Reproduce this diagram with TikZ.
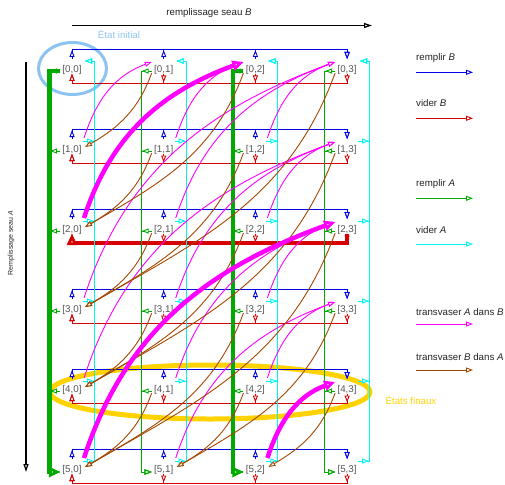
\documentclass[tikz,border=0pt]{standalone}
\usepackage{fontspec}
\setmainfont{Liberation Sans}
\usetikzlibrary{arrows.meta,decorations.markings}

\definecolor{fillBcol}{RGB}{0,0,235}
\definecolor{emptyBcol}{RGB}{215,0,0}
\definecolor{fillAcol}{RGB}{0,170,0}
\definecolor{emptyAcol}{RGB}{0,245,245}
\definecolor{pourABcol}{RGB}{255,0,255}
\definecolor{pourBAcol}{RGB}{165,70,0}
\definecolor{initcol}{RGB}{140,195,240}
\definecolor{finalcol}{RGB}{255,210,0}
\definecolor{statecol}{RGB}{85,85,85}
\definecolor{textcol}{RGB}{35,35,35}

\tikzset{
  Otip/.tip={Triangle[length=7pt,width=5pt,fill=white]},
  OtipBig/.tip={Triangle[length=11pt,width=10pt,fill=white]},
  state/.style={font=\fontsize{9.8}{11}\selectfont, text=statecol, inner sep=0pt},
  legend/.style={font=\fontsize{9.7}{11}\selectfont, text=textcol, inner sep=0pt, anchor=base west},
  edge/.style={line width=0.9pt, -Otip},
  hot/.style={line width=4.5pt, -OtipBig},
  srcmark/.style={postaction={decorate},
    decoration={markings, mark=at position #1 with {\arrow{Otip}}}},
  axis/.style={line width=1.2pt, black, -{Triangle[length=8pt,width=5pt,fill=white]}},
}

\begin{document}
\begin{tikzpicture}[x=1pt,y=1pt]
\useasboundingbox (0,0) rectangle (505,-484);

% highlighted sets of states
\draw[finalcol, line width=5pt] (210,-392) ellipse [x radius=160, y radius=27];
\draw[initcol, line width=3pt] (72.5,-68.5) ellipse [x radius=34, y radius=26];

% states [a,b]: a litres in A (rows), b litres in B (columns)
\foreach \a in {0,...,5}{
  \foreach \b in {0,...,3}{
    \node[state] (s\a\b) at ({72+91.7*\b},{-70-80*\a}) {[\a,\b]};
  }
}

% remplir B : [a,b] -> [a,3]
\foreach \a in {0,...,5}{
  \foreach \b in {0,1,2}{
    \draw[fillBcol, edge, srcmark=9pt] ([yshift=11pt]s\a\b.center) -- ([yshift=20.5pt]s\a\b.center) -| ([yshift=11pt]s\a3.center);
  }
}

% vider B : [a,b] -> [a,0]
\foreach \a in {0,...,5}{
  \foreach \b in {1,2,3}{
    \draw[emptyBcol, edge, srcmark=8.5pt] ([yshift=-4pt]s\a\b.center) -- ([yshift=-13pt]s\a\b.center) -| ([yshift=-4pt]s\a0.center);
  }
}
\draw[emptyBcol, hot] ([yshift=-4pt]s23.center) -- ([yshift=-13pt]s23.center) -| ([yshift=-4pt]s20.center);

% remplir A : [a,b] -> [5,b]
\foreach \b in {0,...,3}{
  \foreach \a in {0,...,4}{
    \draw[fillAcol, edge, srcmark=10pt] ([xshift=-12pt,yshift=-1pt]s\a\b.center) -- ([xshift=-22.5pt,yshift=-1pt]s\a\b.center) |- ([xshift=-12pt,yshift=-2pt]s5\b.center);
  }
}
\foreach \b in {0,2}{
  \draw[fillAcol, hot] ([xshift=-12pt,yshift=-1pt]s0\b.center) -- ([xshift=-22.5pt,yshift=-1pt]s0\b.center) |- ([xshift=-12pt,yshift=-2pt]s5\b.center);
}

% vider A : [a,b] -> [0,b]
\foreach \b in {0,...,3}{
  \foreach \a in {1,...,5}{
    \draw[emptyAcol, edge, srcmark=11pt] ([xshift=11pt,yshift=9pt]s\a\b.center) -- ([xshift=22.5pt,yshift=9pt]s\a\b.center) |- ([xshift=13pt,yshift=9pt]s0\b.center);
  }
}

% transvaser A dans B
\foreach \a/\b/\c/\d in {1/0/0/1, 1/1/0/2, 1/2/0/3, 2/1/0/3, 2/2/1/3, 3/0/0/3, 3/1/1/3, 3/2/2/3, 4/0/1/3, 4/1/2/3, 4/2/3/3, 5/1/3/3}{
  \draw[pourABcol, edge] ([shift={(12pt,12pt)}]s\a\b.center) to[out=72,in=200] ([shift={(-12pt,8pt)}]s\c\d.center);
}

% transvaser B dans A
\foreach \a/\b/\c/\d in {0/1/1/0, 0/2/2/0, 0/3/3/0, 1/1/2/0, 1/2/3/0, 1/3/4/0, 2/1/3/0, 2/2/4/0, 2/3/5/0, 3/1/4/0, 3/2/5/0, 3/3/5/1, 4/1/5/0, 4/2/5/1, 4/3/5/2}{
  \draw[pourBAcol, edge] ([shift={(-12pt,-3pt)}]s\a\b.center) to[out=250,in=30] ([shift={(13pt,3pt)}]s\c\d.center);
}

% solution path
\foreach \a/\b/\c/\d in {2/0/0/2, 5/0/2/3, 5/2/4/3}{
  \draw[pourABcol, hot] ([shift={(12pt,12pt)}]s\a\b.center) to[out=72,in=200] ([shift={(-12pt,8pt)}]s\c\d.center);
}

% axes
\coordinate (bx0) at (72,-25.5);
\coordinate (bx1) at (372,-25.5);
\draw[axis] (bx0) -- (bx1);
\node[font=\fontsize{9.7}{11}\selectfont, text=textcol] (tB) at (209,-12.5) {remplissage seau \textit{B}};
\coordinate (ay0) at (26,-62);
\coordinate (ay1) at (26,-472);
\draw[axis] (ay0) -- (ay1);
\node[font=\fontsize{7}{8}\selectfont, text=textcol, rotate=90] (tA) at (11,-243) {Remplissage seau \textit{A}};

% annotations
\node[font=\fontsize{9.7}{11}\selectfont, text=initcol] (tinit) at (119,-34) {État initial};
\node[font=\fontsize{9.7}{11}\selectfont, text=finalcol] (tfinal) at (411,-400) {États finaux};

% legend
\node[legend] (l1) at (416,-60.5) {remplir \textit{B}};
\coordinate (k1) at (416,-72.3);
\draw[fillBcol, edge] (k1) -- ++(57,0);
\node[legend] (l2) at (416,-106.7) {vider \textit{B}};
\coordinate (k2) at (416,-118.3);
\draw[emptyBcol, edge] (k2) -- ++(57,0);
\node[legend] (l3) at (416,-186.5) {remplir \textit{A}};
\coordinate (k3) at (416,-198.3);
\draw[fillAcol, edge] (k3) -- ++(57,0);
\node[legend] (l4) at (416,-233) {vider \textit{A}};
\coordinate (k4) at (416,-244);
\draw[emptyAcol, edge] (k4) -- ++(57,0);
\node[legend] (l5) at (416,-315) {transvaser \textit{A} dans \textit{B}};
\coordinate (k5) at (416,-324);
\draw[pourABcol, edge] (k5) -- ++(57,0);
\node[legend] (l6) at (416,-360) {transvaser \textit{B} dans \textit{A}};
\coordinate (k6) at (416,-370);
\draw[pourBAcol, edge] (k6) -- ++(57,0);
\end{tikzpicture}
\end{document}
